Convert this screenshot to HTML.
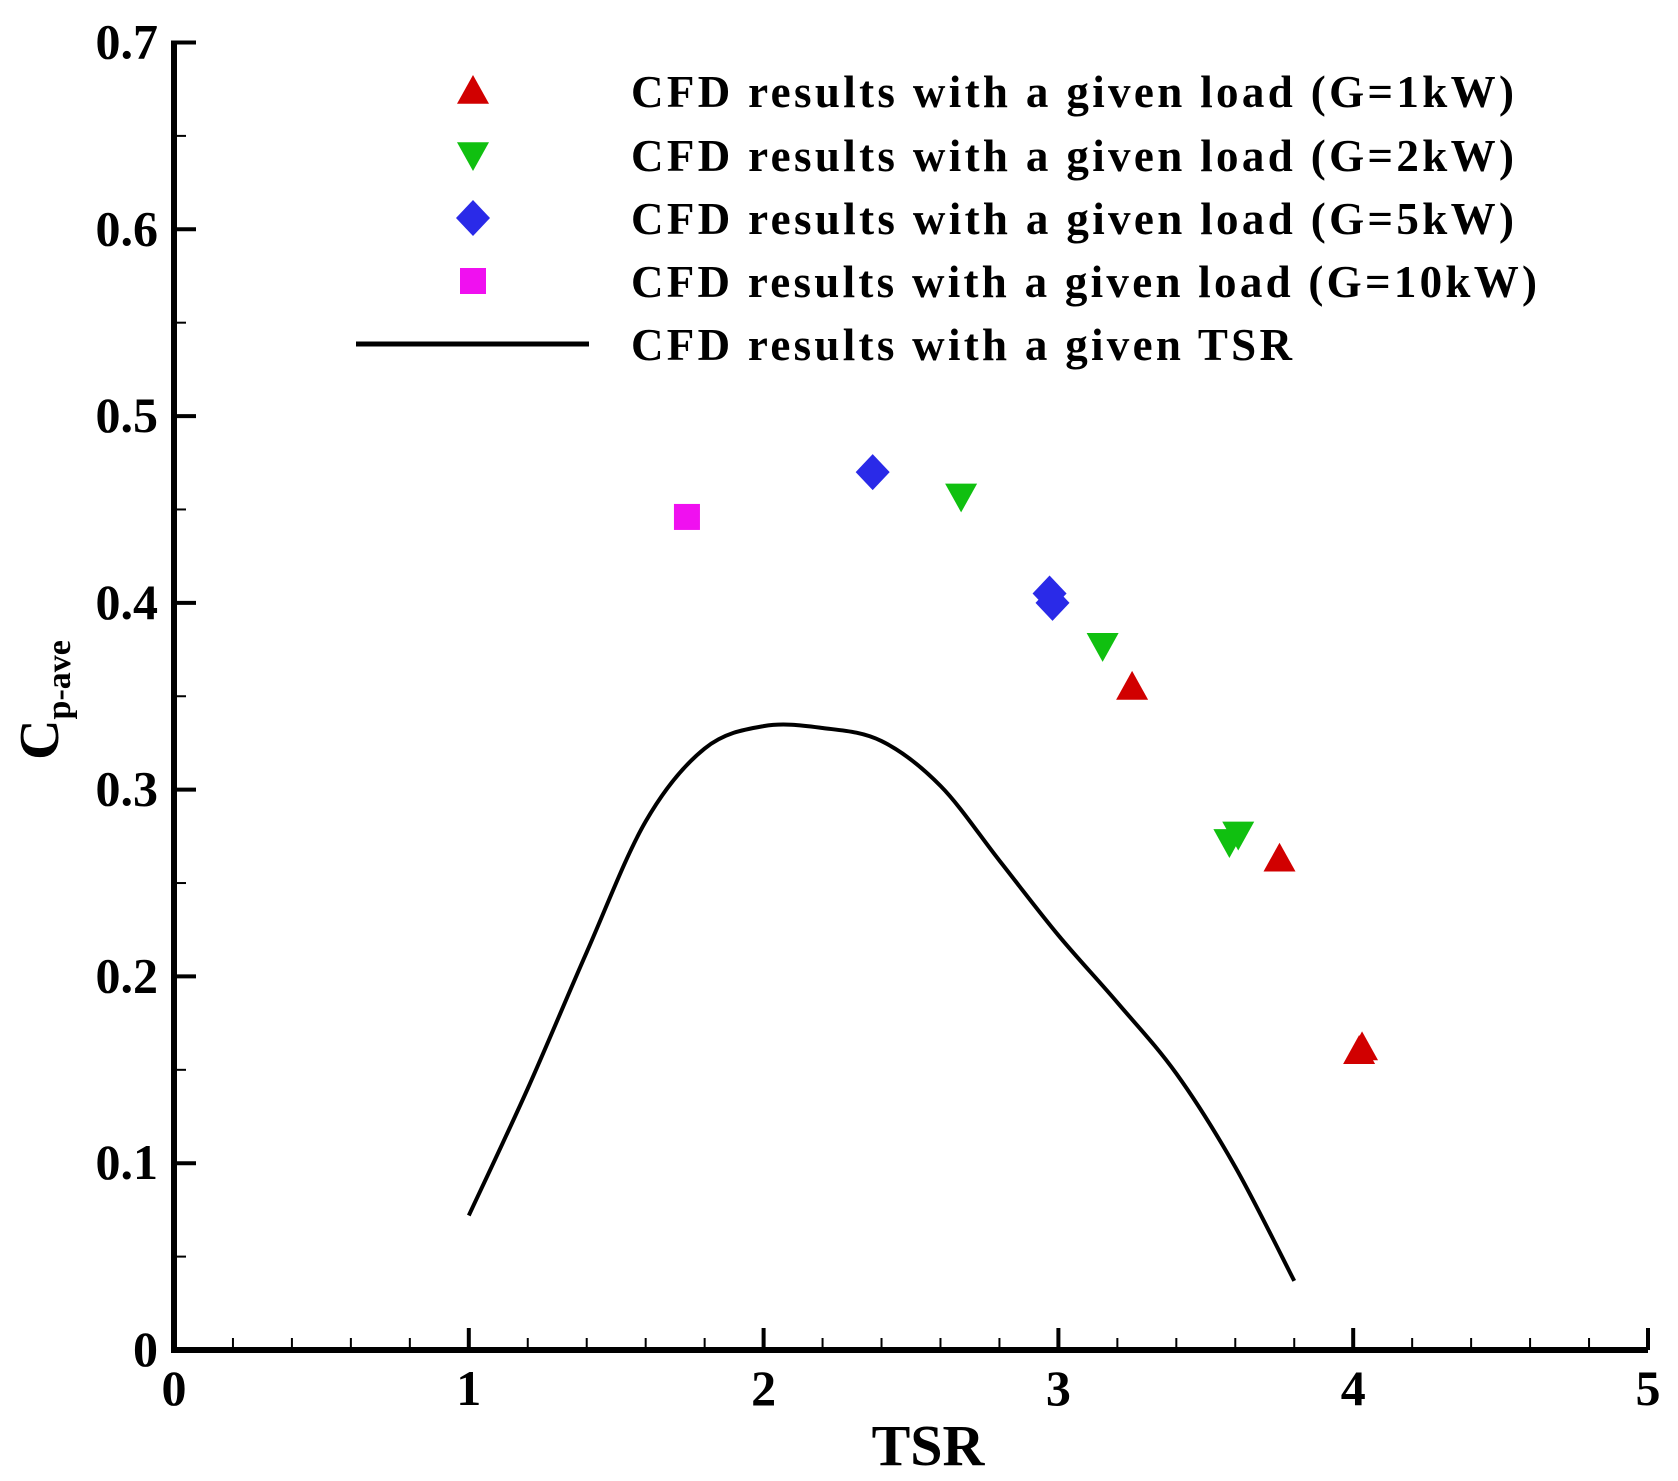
<!DOCTYPE html>
<html><head><meta charset="utf-8"><style>
html,body{margin:0;padding:0;background:#fff;}
svg{display:block;font-family:"Liberation Serif",serif;font-weight:bold;}
</style></head><body>
<svg id="chart" width="1678" height="1481" viewBox="0 0 1678 1481" xmlns="http://www.w3.org/2000/svg">
<g id="axes"></g><g id="marks"></g><g id="legend"></g>
</svg>
<script>
const xTicks=[0,1,2,3,4,5];
const yTicks=[0,0.1,0.2,0.3,0.4,0.5,0.6,0.7];
const yTickLabels=["0","0.1","0.2","0.3","0.4","0.5","0.6","0.7"];
const curveTSR=[1,1.2,1.4,1.6,1.8,2.0,2.2,2.4,2.6,2.8,3.0,3.2,3.4,3.6,3.8];
const curveCp=[0.072,0.14,0.213,0.283,0.322,0.334,0.333,0.326,0.302,0.262,0.222,0.186,0.148,0.098,0.037];
const g1TSR=[3.25,3.75,4.03,4.02];
const g1Cp=[0.355,0.263,0.162,0.16];
const g2TSR=[2.67,3.15,3.58,3.61];
const g2Cp=[0.457,0.377,0.272,0.276];
const g5TSR=[2.37,2.97,2.98];
const g5Cp=[0.47,0.405,0.40];
const g10TSR=[1.74];
const g10Cp=[0.446];

const NS="http://www.w3.org/2000/svg";
const X0=174,X1=1648,Y0=1350,Y1=42.5;
const sx=v=>X0+(v-0)/(5-0)*(X1-X0);
const sy=v=>Y0-(v-0)/(0.7-0)*(Y0-Y1);
function mk(tag,attrs,parent,text){const e=document.createElementNS(NS,tag);for(const k in attrs)e.setAttribute(k,attrs[k]);if(text!==undefined)e.textContent=text;parent.appendChild(e);return e;}
const axes=document.getElementById('axes'),marks=document.getElementById('marks'),legend=document.getElementById('legend');

let e=mk('line',{x1:X0,y1:Y0,x2:X1,y2:Y0,stroke:'#000','stroke-width':6},axes);


e=mk('line',{x1:X0,y1:Y0+3,x2:X0,y2:Y1-2,stroke:'#000','stroke-width':6},axes);


for(let i=0;i<=25;i++){const v=i*0.2;const major=(i%5===0);
 mk('line',{x1:sx(v),y1:Y0,x2:sx(v),y2:Y0-(major?22:12),stroke:'#000','stroke-width':major?4:2},axes);}
xTicks.forEach((v,i)=>{const t=mk('text',{x:sx(v),y:1405,'text-anchor':'middle','font-size':50},axes,String(v));
 
 });
for(let i=0;i<=14;i++){const v=i*0.05;const major=(i%2===0);
 mk('line',{x1:X0,y1:sy(v),x2:X0+(major?22:12),y2:sy(v),stroke:'#000','stroke-width':major?4:2},axes);}
yTicks.forEach((v,i)=>{const t=mk('text',{x:158,y:sy(v)+16,'text-anchor':'end','font-size':50},axes,yTickLabels[i]);
 
 });
e=mk('text',{x:928,y:1465,'text-anchor':'middle','font-size':58},axes,'TSR');


e=mk('text',{transform:'translate(58,700) rotate(-90)','text-anchor':'middle','font-size':56},axes);


mk('tspan',{},e,'C');mk('tspan',{'font-size':34,dy:12},e,'p-ave');

// smooth curve (Catmull-Rom)
const pts=curveTSR.map((v,i)=>[sx(v),sy(curveCp[i])]);
let d='M'+pts[0][0]+','+pts[0][1];
for(let i=0;i<pts.length-1;i++){const p0=pts[Math.max(i-1,0)],p1=pts[i],p2=pts[i+1],p3=pts[Math.min(i+2,pts.length-1)];
 const c1=[p1[0]+(p2[0]-p0[0])/6,p1[1]+(p2[1]-p0[1])/6],c2=[p2[0]-(p3[0]-p1[0])/6,p2[1]-(p3[1]-p1[1])/6];
 d+=`C${c1[0]},${c1[1]} ${c2[0]},${c2[1]} ${p2[0]},${p2[1]}`;}
const line=mk('path',{d:d,fill:'none',stroke:'#000','stroke-width':4,'stroke-linejoin':'round'},marks);



function shape(type,cx,cy,parent){const s=16;
 if(type==='up')return mk('polygon',{points:`${cx},${cy-s} ${cx-s},${cy+s*0.8} ${cx+s},${cy+s*0.8}`,fill:'#d10000'},parent);
 if(type==='down')return mk('polygon',{points:`${cx},${cy+s} ${cx-s},${cy-s*0.8} ${cx+s},${cy-s*0.8}`,fill:'#10c010'},parent);
 if(type==='dia')return mk('polygon',{points:`${cx},${cy-s-2} ${cx+s+1},${cy} ${cx},${cy+s+2} ${cx-s-1},${cy}`,fill:'#2a2ae8'},parent);
 return mk('rect',{x:cx-13,y:cy-13,width:26,height:26,fill:'#f010f0'},parent);}
g1TSR.forEach((v,i)=>{const p=shape('up',sx(v),sy(g1Cp[i]),marks);
 
 });
g2TSR.forEach((v,i)=>{const p=shape('down',sx(v),sy(g2Cp[i]),marks);
 
 });
g5TSR.forEach((v,i)=>{const p=shape('dia',sx(v),sy(g5Cp[i]),marks);
 
 });
g10TSR.forEach((v,i)=>{const p=shape('sq',sx(v),sy(g10Cp[i]),marks);
 
 });

const labels=['CFD results with a given load (G=1kW)','CFD results with a given load (G=2kW)','CFD results with a given load (G=5kW)','CFD results with a given load (G=10kW)','CFD results with a given TSR'];
const types=['up','down','dia','sq','line'];
const rowsY=[91,155,218,281,344];
const textLens=[883,883,883,906,661];
labels.forEach((l,i)=>{const g=mk('g',{},legend);
 
 
 if(types[i]==='line')mk('line',{x1:356,y1:rowsY[i],x2:589,y2:rowsY[i],stroke:'#000','stroke-width':5},g);
 else shape(types[i],473,rowsY[i],g);
 mk('text',{x:631,y:rowsY[i]+16,'font-size':45,textLength:textLens[i],lengthAdjust:'spacing'},g,l);});
</script>
</body></html>
